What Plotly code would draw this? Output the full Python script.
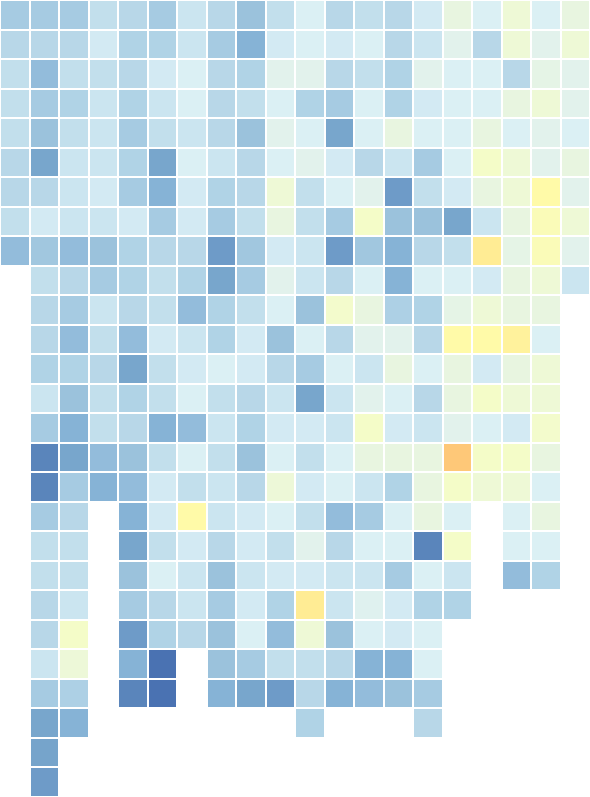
import plotly.graph_objects as go

# Column and row labels (no axes shown in the reference)
columns = list(range(20))
rows = list(range(27))

_ = None
# Cell values (higher = bluer)
row00 = [73.5, 73.5, 73.5, 68, 70, 73.5, 66.5, 70, 75.5, 68, 63, 70, 68, 70, 65, 57.5, 63, 55, 63, 57.5]
row01 = [70, 70, 70, 65, 72, 72, 66.5, 73.5, 78.5, 65, 63, 65, 63, 70, 66.5, 60.5, 70, 55, 60.5, 55]
row02 = [68, 76.5, 68, 68, 70, 65, 63, 70, 72, 60.5, 60.5, 70, 68, 72, 60.5, 63, 63, 70, 59, 60.5]
row03 = [68, 73.5, 72, 66.5, 72, 66.5, 63, 70, 68, 63, 72, 73.5, 63, 72, 65, 63, 63, 57.5, 55, 60.5]
row04 = [68, 75.5, 68, 66.5, 73.5, 68, 66.5, 70, 75.5, 60.5, 63, 81.5, 63, 57.5, 63, 63, 57.5, 63, 60.5, 63]
row05 = [70, 81.5, 66.5, 66.5, 72, 81.5, 63, 66.5, 70, 63, 60.5, 65, 70, 66.5, 73.5, 63, 53, 55, 60.5, 57.5]
row06 = [70, 70, 66.5, 65, 73.5, 78.5, 65, 72, 70, 55, 68, 63, 60.5, 84.5, 68, 65, 57.5, 55, 47, 60.5]
row07 = [68, 65, 66.5, 66.5, 65, 73.5, 65, 73.5, 68, 57.5, 68, 73.5, 53, 75.5, 75.5, 81.5, 66.5, 57.5, 50, 55]
row08 = [76.5, 74.5, 76.5, 75.5, 72, 70, 70, 84.5, 74.5, 65, 66.5, 84.5, 74.5, 78.5, 70, 68, 42, 59, 50, 60.5]
row09 = [_, 68, 70, 73.5, 72, 68, 72, 81.5, 73.5, 60.5, 66.5, 70, 63, 78.5, 63, 63, 65, 57.5, 55, 66.5]
row10 = [_, 70, 73.5, 66.5, 70, 68, 76.5, 72, 68, 63, 75.5, 53.5, 57.5, 72.5, 72, 59, 55, 57.5, 57.5, _]
row11 = [_, 70, 76.5, 68, 76.5, 65, 66.5, 72, 65, 75.5, 63, 70, 60.5, 60.5, 70, 47, 47, 44, 63, _]
row12 = [_, 72, 72, 70, 81.5, 68, 65, 63, 65, 70, 73.5, 63, 66.5, 57.5, 63, 57.5, 65, 57.5, 55, _]
row13 = [_, 66.5, 75.5, 68, 72, 68, 63, 68, 70, 66.5, 81.5, 66.5, 60.5, 63, 70, 57.5, 53, 55, 55, _]
row14 = [_, 73.5, 78.5, 68, 70, 78.5, 76.5, 66.5, 72, 65, 65, 66.5, 53, 65, 66.5, 60.5, 63, 65, 53.5, _]
row15 = [_, 87.5, 81.5, 76.5, 75.5, 68, 63, 68, 75.5, 63, 68, 63, 57.5, 57.5, 57.5, 35, 53, 53, 57.5, _]
row16 = [_, 87.5, 73.5, 78.5, 76.5, 65, 68, 66.5, 70, 55.5, 65, 63, 66.5, 72, 57.5, 53, 55, 55, 63, _]
row17 = [_, 73.5, 70, _, 78.5, 65, 47, 66.5, 65, 63, 68, 76.5, 73.5, 63, 57.5, 63, _, 63, 57.5, _]
row18 = [_, 68, 68, _, 81.5, 68, 65, 70, 65, 68, 60.5, 70, 63, 63, 87.5, 53, _, 63, 63, _]
row19 = [_, 68, 68, _, 75.5, 63, 66.5, 75.5, 66.5, 65, 65, 66.5, 66.5, 73.5, 63, 66.5, _, 76.5, 72, _]
row20 = [_, 70, 66.5, _, 73.5, 70, 66.5, 73.5, 65, 72, 42, 66.5, 61.5, 65, 72, 72, _, _, _, _]
row21 = [_, 70, 53, _, 84.5, 72, 70, 75.5, 63, 76.5, 55, 75.5, 63, 65, 63, _, _, _, _, _]
row22 = [_, 66.5, 55.5, _, 78.5, 90, _, 75.5, 73.5, 68, 68, 70, 78.5, 78.5, 63, _, _, _, _, _]
row23 = [_, 73.5, 72.5, _, 87.5, 90, _, 78.5, 81.5, 84.5, 70, 78.5, 76.5, 75.5, 73.5, _, _, _, _, _]
row24 = [_, 81.5, 78.5, _, _, _, _, _, _, _, 72, _, _, _, 70, _, _, _, _, _]
row25 = [_, 82, _, _, _, _, _, _, _, _, _, _, _, _, _, _, _, _, _, _]
row26 = [_, 84.5, _, _, _, _, _, _, _, _, _, _, _, _, _, _, _, _, _, _]

z = [row00, row01, row02, row03, row04, row05, row06, row07, row08, row09,
     row10, row11, row12, row13, row14, row15, row16, row17, row18, row19,
     row20, row21, row22, row23, row24, row25, row26]

# Colour stops (value, colour) for a muted RdYlBu-like scale
ZMIN, ZMAX = 30, 95
stops = [
    (30, "#fdb36a"), (35, "#fec878"), (42, "#ffec94"), (47, "#fffaa8"),
    (53, "#f4fcc8"), (55, "#eef9d6"), (57.5, "#e8f5e0"), (60.5, "#e2f2ec"),
    (63, "#dbf0f4"), (65, "#d3eaf3"), (66.5, "#cbe5f0"), (68, "#c2dfec"),
    (70, "#b8d7e8"), (72, "#b0d3e6"), (73.5, "#a6cbe2"), (75.5, "#9bc2dc"),
    (76.5, "#93bcdb"), (78.5, "#86b3d6"), (81.5, "#78a6cc"), (84.5, "#6e9bc8"),
    (87.5, "#5a85bb"), (90, "#4a72b2"), (95, "#3d5ea6"),
]
colorscale = [[(v - ZMIN) / (ZMAX - ZMIN), c] for v, c in stops]

fig = go.Figure(
    go.Heatmap(
        z=z,
        x=columns,
        y=rows,
        colorscale=colorscale,
        zmin=ZMIN,
        zmax=ZMAX,
        xgap=2,
        ygap=2,
        showscale=False,
        hoverongaps=False,
    )
)

fig.update_layout(
    width=590,
    height=797,
    margin=dict(l=0, r=0, t=0, b=0),
    paper_bgcolor="white",
    plot_bgcolor="white",
    xaxis=dict(visible=False, range=[-0.5, 19.5]),
    yaxis=dict(visible=False, range=[26.5, -0.5]),
)

fig.write_html(
    "out.html",
    config={"displayModeBar": False},
    post_script="document.body.style.margin='0';",
)
